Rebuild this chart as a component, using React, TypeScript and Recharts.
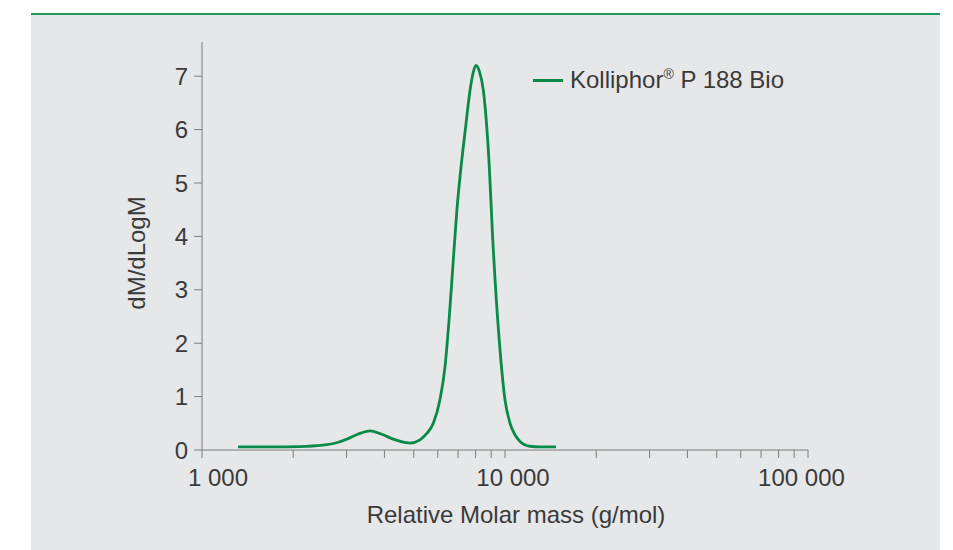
import React from 'react';
import { LineChart, Line, XAxis, YAxis, Legend } from 'recharts';

// Relative molar mass (g/mol) sample positions
const molarMass = [
  1315, 1700, 2100, 2500, 2800, 3000, 3250, 3585, 3900, 4300, 4700, 4860, 5240, 5500, 5800,
  6100, 6340, 6550, 6760, 6940, 7130, 7380, 7670, 7840, 8020, 8240, 8480, 8810, 9150, 9630, 10000,
  10390, 10800, 11210, 12090, 13000, 14730,
];
// dM/dLogM values
const dMdLogM = [
  0.06, 0.06, 0.065, 0.09, 0.14, 0.2, 0.29, 0.36, 0.3, 0.2, 0.14, 0.13, 0.19, 0.3, 0.5,
  0.94, 1.56, 2.5, 3.6, 4.5, 5.2, 5.95, 6.74, 7.05, 7.2, 7.08, 6.74, 5.62, 3.75, 1.87, 0.94,
  0.5, 0.28, 0.16, 0.07, 0.06, 0.06,
];

const xTicks = [
  1000, 2000, 3000, 4000, 5000, 6000, 7000, 8000, 9000,
  10000, 20000, 30000, 40000, 50000, 60000, 70000, 80000, 90000, 100000,
];
const xTickLabelValues = [1000, 10000, 100000];
const xTickLabels = ['1 000', '10 000', '100 000'];
const yTicks = [0, 1, 2, 3, 4, 5, 6, 7];

const seriesName = 'Kolliphor® P 188 Bio';
const xAxisTitle = 'Relative Molar mass (g/mol)';
const yAxisTitle = 'dM/dLogM';

const GREEN = '#0a8a48';
const TEXT = '#3a3a3a';
const AXIS = '#7d7d7d';
const FONT = '"Liberation Sans", Arial, Helvetica, sans-serif';

const data = molarMass.map((m, i) => ({ m, v: dMdLogM[i] }));

const labelOffsets = [16, 8, -6.5];

const XTick = (props: any) => {
  const { x, y, payload } = props;
  const idx = xTickLabelValues.indexOf(payload.value);
  if (idx < 0) return <g />;
  return (
    <text x={x + labelOffsets[idx]} y={y} dy="0.71em" textAnchor="middle" fontSize={24} fill={TEXT}>
      {xTickLabels[idx]}
    </text>
  );
};

const renderLegend = () => {
  const [before, after] = seriesName.split('®');
  return (
    <div style={{ display: 'flex', alignItems: 'center', fontSize: 24, color: TEXT, whiteSpace: 'nowrap', fontFamily: FONT }}>
      <span style={{ display: 'inline-block', width: 30, height: 3, background: GREEN, marginRight: 7 }} />
      <span>
        {before}
        <span style={{ fontSize: 14, verticalAlign: 'super', lineHeight: 0 }}>®</span>
        {after}
      </span>
    </div>
  );
};

export default function App() {
  return (
    <div style={{ position: 'absolute', left: 0, top: 0, width: 953, height: 550, background: '#ffffff', fontFamily: FONT }}>
      <div style={{ position: 'absolute', left: 31, top: 13, width: 909, height: 537, background: '#e6e7e8', borderTop: `2px solid #1e9a5c` }} />
      <div style={{ position: 'absolute', left: 0, top: 0 }}>
        <LineChart width={953} height={550} data={data} margin={{ top: 42, right: 145, bottom: 42, left: 142 }}>
          <XAxis
            dataKey="m"
            type="number"
            scale="log"
            domain={[1000, 100000]}
            ticks={xTicks}
            interval={0}
            allowDataOverflow
            height={30}
            stroke={AXIS}
            tickSize={8}
            tickMargin={11}
            tick={<XTick />}
            label={({ viewBox }: any) => (
              <text x={viewBox.x + viewBox.width / 2 + 11} y={viewBox.y + 73} textAnchor="middle" fontSize={24} fill={TEXT}>
                {xAxisTitle}
              </text>
            )}
          />
          <YAxis
            type="number"
            domain={[0, 7.64]}
            ticks={yTicks}
            interval={0}
            allowDataOverflow
            width={60}
            stroke={AXIS}
            tickSize={8}
            tickMargin={6}
            tick={{ fontSize: 24, fill: TEXT }}
            label={({ viewBox }: any) => {
              const cx = viewBox.x + 3;
              const cy = viewBox.y + viewBox.height / 2 + 7;
              return (
                <text x={cx} y={cy} transform={`rotate(-90, ${cx}, ${cy})`} textAnchor="middle" fontSize={24} fill={TEXT}>
                  {yAxisTitle}
                </text>
              );
            }}
          />
          <Legend
            content={renderLegend}
            wrapperStyle={{ position: 'absolute', left: 533, top: 66, width: 'auto', height: 'auto', margin: 0 }}
          />
          <Line
            type="monotone"
            dataKey="v"
            name={seriesName}
            stroke={GREEN}
            strokeWidth={2.8}
            dot={false}
            activeDot={false}
            isAnimationActive={false}
          />
        </LineChart>
      </div>
    </div>
  );
}
